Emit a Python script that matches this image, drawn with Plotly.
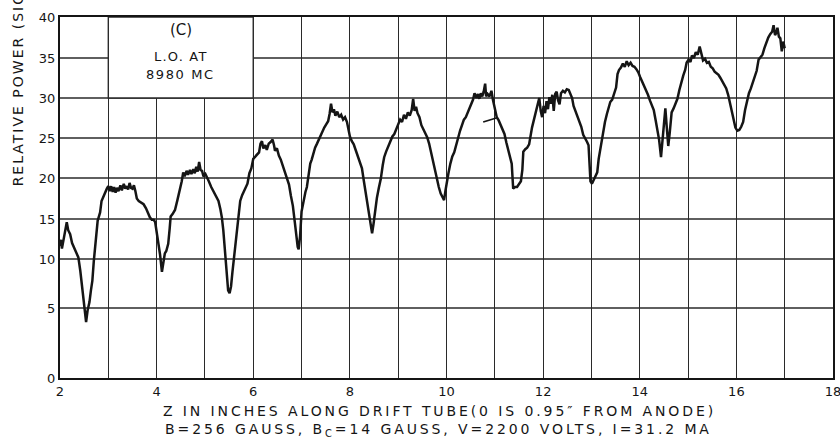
import numpy as np
import plotly.graph_objects as go

# Distance along the drift tube (inches) and relative power
z_in = [
    2.00, 2.02, 2.04, 2.07, 2.10, 2.14, 2.17, 2.21, 2.25, 2.28, 2.33, 2.38, 2.42, 2.45, 2.49, 2.52,
    2.54, 2.57, 2.61, 2.64, 2.67, 2.70, 2.72, 2.75, 2.78, 2.80, 2.83, 2.86, 2.90, 2.93, 2.97, 3.00,
    3.03, 3.06, 3.09, 3.12, 3.15, 3.18, 3.21, 3.25, 3.28, 3.32, 3.35, 3.38, 3.41, 3.44, 3.47, 3.50,
    3.53, 3.56, 3.59, 3.63, 3.68, 3.73, 3.78, 3.82, 3.86, 3.90, 3.94, 3.97, 4.00, 4.04, 4.07, 4.11,
    4.14, 4.17, 4.20, 4.24, 4.27, 4.29, 4.33, 4.38, 4.43, 4.48, 4.52, 4.55, 4.58, 4.62, 4.65, 4.69,
    4.72, 4.76, 4.79, 4.82, 4.85, 4.88, 4.91, 4.94, 4.97, 5.01, 5.04, 5.08, 5.13, 5.17, 5.22, 5.28,
    5.32, 5.35, 5.38, 5.42, 5.45, 5.48, 5.51, 5.54, 5.57, 5.60, 5.63, 5.66, 5.70, 5.73, 5.77, 5.81,
    5.85, 5.88, 5.92, 5.96, 6.00, 6.04, 6.08, 6.12, 6.15, 6.18, 6.21, 6.25, 6.28, 6.32, 6.36, 6.40,
    6.43, 6.45, 6.49, 6.53, 6.57, 6.61, 6.65, 6.70, 6.74, 6.78, 6.82, 6.86, 6.89, 6.92, 6.94, 6.97,
    7.00, 7.04, 7.08, 7.11, 7.14, 7.18, 7.21, 7.25, 7.28, 7.32, 7.36, 7.40, 7.43, 7.47, 7.51, 7.55,
    7.58, 7.61, 7.64, 7.67, 7.70, 7.74, 7.78, 7.82, 7.86, 7.90, 7.94, 7.97, 8.00, 8.04, 8.08, 8.12,
    8.16, 8.20, 8.25, 8.29, 8.33, 8.37, 8.41, 8.44, 8.46, 8.49, 8.52, 8.56, 8.60, 8.64, 8.68, 8.71,
    8.75, 8.80, 8.84, 8.88, 8.92, 8.96, 9.00, 9.04, 9.08, 9.12, 9.16, 9.20, 9.24, 9.28, 9.31, 9.34,
    9.37, 9.40, 9.44, 9.48, 9.52, 9.56, 9.60, 9.64, 9.68, 9.72, 9.76, 9.80, 9.84, 9.88, 9.92, 9.95,
    9.98, 10.01, 10.04, 10.08, 10.12, 10.16, 10.20, 10.24, 10.28, 10.32, 10.36, 10.40, 10.44, 10.48, 10.52, 10.55,
    10.58, 10.62, 10.65, 10.68, 10.71, 10.74, 10.77, 10.80, 10.82, 10.85, 10.89, 10.93, 10.96, 11.00, 11.04, 11.08,
    11.12, 11.16, 11.20, 11.24, 11.28, 11.32, 11.35, 11.38, 11.42, 11.46, 11.50, 11.54, 11.57, 11.59, 11.63, 11.67,
    11.71, 11.74, 11.77, 11.81, 11.85, 11.89, 11.92, 11.95, 11.98, 12.01, 12.04, 12.07, 12.10, 12.13, 12.16, 12.19,
    12.22, 12.25, 12.28, 12.31, 12.34, 12.37, 12.41, 12.45, 12.49, 12.53, 12.56, 12.60, 12.63, 12.67, 12.71, 12.75,
    12.79, 12.83, 12.87, 12.91, 12.94, 12.96, 12.98, 13.01, 13.05, 13.09, 13.12, 13.15, 13.18, 13.22, 13.25, 13.28,
    13.32, 13.36, 13.39, 13.43, 13.47, 13.51, 13.54, 13.57, 13.61, 13.65, 13.69, 13.73, 13.77, 13.81, 13.85, 13.89,
    13.93, 13.97, 14.01, 14.05, 14.09, 14.13, 14.17, 14.21, 14.25, 14.29, 14.33, 14.37, 14.40, 14.44, 14.47, 14.50,
    14.53, 14.56, 14.59, 14.62, 14.66, 14.70, 14.74, 14.78, 14.82, 14.86, 14.90, 14.94, 14.97, 15.01, 15.05, 15.08,
    15.12, 15.16, 15.20, 15.24, 15.27, 15.31, 15.35, 15.39, 15.43, 15.47, 15.51, 15.55, 15.59, 15.63, 15.67, 15.71,
    15.75, 15.79, 15.83, 15.87, 15.91, 15.95, 15.98, 16.02, 16.06, 16.10, 16.14, 16.18, 16.22, 16.26, 16.30, 16.34,
    16.38, 16.42, 16.46, 16.50, 16.54, 16.58, 16.62, 16.66, 16.70, 16.74, 16.77, 16.80, 16.83, 16.85, 16.88, 16.91,
    16.94, 16.97, 17.00,
]
rel_power = [
    11.6, 12.4, 11.3, 12.3, 13.2, 14.6, 13.6, 13.1, 12.0, 11.6, 10.9, 10.2, 8.8, 7.5, 6.2, 5.0,
    4.0, 4.8, 5.6, 6.8, 7.8, 9.8, 11.2, 13.0, 14.8, 15.2, 15.8, 17.2, 17.8, 18.2, 18.7, 19.0,
    18.4, 19.0, 18.3, 18.9, 18.2, 18.8, 18.4, 19.1, 18.5, 19.3, 18.7, 19.0, 18.6, 19.4, 18.8, 18.7,
    19.1, 18.4, 17.5, 17.2, 17.0, 16.8, 16.3, 15.7, 15.2, 14.9, 14.9, 14.6, 13.4, 12.2, 10.6, 8.7,
    9.6, 10.7, 11.0, 11.9, 13.8, 15.3, 15.6, 16.1, 17.3, 18.4, 19.6, 20.7, 20.2, 20.9, 20.4, 21.0,
    20.5, 21.1, 20.6, 21.4, 20.8, 22.0, 21.0, 20.9, 20.2, 20.5, 20.0, 19.6, 18.9, 18.4, 17.9, 17.2,
    16.2, 15.2, 13.6, 10.6, 8.3, 6.8, 6.5, 7.2, 8.7, 10.0, 11.8, 13.7, 15.6, 17.2, 17.9, 18.4,
    18.9, 19.3, 20.6, 21.2, 22.4, 22.7, 23.0, 23.2, 24.3, 24.6, 23.7, 24.1, 23.5, 24.3, 24.5, 24.8,
    24.1, 23.4, 23.7, 22.8, 22.3, 21.6, 20.9, 19.8, 19.2, 17.8, 16.6, 14.6, 12.9, 11.5, 11.2, 12.9,
    15.9, 17.3, 18.3, 18.9, 20.2, 21.8, 22.3, 23.2, 23.8, 24.3, 24.9, 25.5, 25.9, 26.3, 26.7, 27.1,
    28.0, 29.3, 28.2, 28.6, 27.8, 28.3, 27.6, 27.9, 27.3, 27.6, 27.0, 26.2, 25.2, 24.6, 24.2, 23.5,
    22.8, 22.0, 21.2, 19.6, 18.0, 16.6, 15.0, 13.6, 13.2, 14.4, 15.9, 17.6, 18.8, 19.9, 21.6, 22.6,
    23.3, 24.0, 24.6, 25.2, 25.5, 26.2, 26.7, 27.3, 27.0, 27.9, 27.4, 28.2, 27.8, 28.5, 29.9, 28.4,
    28.9, 28.1, 27.6, 26.6, 26.1, 25.4, 25.1, 24.3, 23.2, 22.0, 20.9, 19.8, 18.9, 18.1, 17.5, 17.3,
    18.5, 19.8, 20.6, 21.8, 22.7, 23.2, 24.3, 25.0, 25.9, 26.6, 27.3, 27.6, 28.2, 28.8, 29.2, 29.8,
    30.6, 30.0, 30.5, 29.9, 30.6, 30.2, 30.8, 31.8, 30.2, 30.5, 30.2, 30.9, 29.8, 28.8, 27.6, 27.2,
    26.7, 26.0, 25.5, 24.4, 23.3, 22.6, 21.8, 18.7, 18.9, 18.9, 19.3, 19.6, 21.0, 23.3, 23.6, 23.8,
    24.2, 25.4, 26.3, 27.3, 28.4, 29.4, 30.0, 28.4, 27.6, 29.0, 28.1, 29.6, 28.6, 30.1, 29.3, 30.4,
    28.4, 30.5, 30.8, 29.7, 29.2, 30.6, 30.9, 30.7, 31.1, 31.0, 30.5, 30.0, 29.0, 28.3, 27.6, 27.1,
    26.4, 25.4, 25.0, 24.5, 24.1, 22.2, 19.6, 19.3, 19.8, 20.1, 20.7, 22.4, 23.6, 25.2, 26.4, 27.0,
    28.0, 29.1, 29.5, 29.8, 30.6, 31.3, 33.0, 33.5, 33.8, 34.3, 33.9, 34.6, 34.1, 34.4, 34.0, 33.9,
    33.6, 33.2, 32.6, 32.1, 31.5, 31.0, 30.4, 29.7, 29.0, 28.5, 27.2, 25.8, 24.8, 22.6, 24.6, 27.6,
    28.7, 26.3, 24.0, 25.6, 28.2, 28.7, 29.3, 29.9, 31.0, 32.0, 32.8, 33.5, 34.4, 34.8, 34.5, 35.3,
    35.0, 35.7, 35.4, 36.4, 35.6, 34.7, 34.9, 34.4, 34.5, 33.9, 33.7, 33.3, 33.1, 32.9, 32.5, 32.1,
    31.7, 31.2, 30.4, 29.2, 28.3, 27.2, 26.3, 25.9, 26.0, 26.4, 27.0, 28.5, 29.7, 30.6, 31.2, 31.9,
    32.6, 33.4, 34.8, 35.1, 35.4, 36.2, 36.9, 37.5, 37.9, 38.2, 39.0, 37.8, 38.1, 38.7, 37.6, 37.4,
    35.8, 37.0, 36.2,
]

# Short stray pen stroke beside the trace near z = 10.8 in
stroke_z = [10.76, 11.03]
stroke_power = [27.0, 27.5]

# The recorder chart is ruled non-uniformly: labelled power values and the
# height (in ruling units) at which each ruling sits.
POWER_TICKS = [0, 5, 10, 15, 20, 25, 30, 35, 40]
RULING_HEIGHT = [0, 70, 119, 159, 200, 240, 280, 320, 361]

# Vertical rulings every inch, labelled every second inch
Z_RULINGS = list(range(2, 19))
Z_LABELS = [str(z) if z % 2 == 0 else "" for z in Z_RULINGS]


def to_chart(power):
    """Map relative power onto the chart's ruled vertical scale."""
    return np.interp(np.asarray(power, dtype=float), POWER_TICKS, RULING_HEIGHT)


INK = "#151515"
GRID = "#2a2a2a"
FONT = "DejaVu Sans"


def spaced(text, px):
    return f'<span style="letter-spacing:{px}px">{text}</span>'


# Horizontal chart rulings at each labelled power level, as one broken path
rule_x, rule_y = [], []
for h in RULING_HEIGHT[1:-1]:
    rule_x += [Z_RULINGS[0], Z_RULINGS[-1], None]
    rule_y += [h, h, None]

fig = go.Figure()
fig.add_trace(go.Scatter(
    x=rule_x, y=rule_y, mode="lines", line=dict(color=GRID, width=1.3),
    hoverinfo="skip", showlegend=False,
))
fig.add_trace(go.Scatter(
    x=z_in, y=to_chart(rel_power), customdata=rel_power,
    mode="lines", line=dict(color=INK, width=2.5),
    hovertemplate="z = %{x:.2f} in<br>power = %{customdata:.1f}<extra></extra>",
    showlegend=False,
))
fig.add_trace(go.Scatter(
    x=stroke_z, y=to_chart(stroke_power), mode="lines",
    line=dict(color=INK, width=1.8), hoverinfo="skip", showlegend=False,
))

# White label panel laid over the rulings in the upper left (the trace never reaches it)
fig.add_shape(
    type="rect", xref="x", yref="y", x0=3, x1=6,
    y0=float(to_chart(30)), y1=float(to_chart(40)),
    fillcolor="white", line=dict(color=GRID, width=1.4), layer="above",
)

annotations = [
    dict(text="(C)", x=4.5, y=0.963, xref="x", yref="paper", yanchor="middle",
         showarrow=False, font=dict(family=FONT, size=15, color=INK)),
    dict(text=spaced("L.O. AT", 1.2), x=4.5, y=0.89, xref="x", yref="paper",
         yanchor="middle", showarrow=False, font=dict(family=FONT, size=13, color=INK)),
    dict(text=spaced("8980 MC", 1.6), x=4.5, y=0.84, xref="x", yref="paper",
         yanchor="middle", showarrow=False, font=dict(family=FONT, size=13, color=INK)),
    dict(text=spaced("Z IN INCHES ALONG DRIFT TUBE(0 IS 0.95\u2033 FROM ANODE)", 2.9),
         x=0.491, y=-0.091, xref="paper", yref="paper", xanchor="center",
         yanchor="middle", showarrow=False,
         font=dict(family=FONT, size=14, color=INK)),
    dict(text=spaced("B=256 GAUSS, B<sub>C</sub>=14 GAUSS, V=2200 VOLTS, I=31.2 MA", 2.9),
         x=0.490, y=-0.144, xref="paper", yref="paper", xanchor="center",
         yanchor="middle", showarrow=False,
         font=dict(family=FONT, size=14, color=INK)),
    dict(text=spaced("RELATIVE POWER (SIGNAL)", 2.0), textangle=-90,
         x=-0.054, y=0.526, xref="paper", yref="paper", xanchor="center",
         yanchor="bottom", showarrow=False,
         font=dict(family=FONT, size=14, color=INK)),
]

fig.update_layout(
    template="none",
    width=840, height=442,
    margin=dict(l=60, r=7, t=17, b=64),
    paper_bgcolor="white", plot_bgcolor="white",
    font=dict(family=FONT, size=13, color=INK),
    annotations=annotations,
    showlegend=False,
)
fig.update_xaxes(
    range=[2, 18], tickmode="array", tickvals=Z_RULINGS, ticktext=Z_LABELS,
    showgrid=True, gridcolor=GRID, gridwidth=1.3,
    showline=True, linecolor=INK, linewidth=2.2, mirror=True,
    ticks="", zeroline=False, tickfont=dict(size=13), ticklabeloverflow="allow",
)
fig.update_yaxes(
    range=[0, RULING_HEIGHT[-1]], tickmode="array", tickvals=RULING_HEIGHT,
    ticktext=[str(t) for t in POWER_TICKS],
    showgrid=False,
    showline=True, linecolor=INK, linewidth=2.2, mirror=True,
    ticks="", zeroline=False, tickfont=dict(size=13),
)

fig.write_html("out.html")
